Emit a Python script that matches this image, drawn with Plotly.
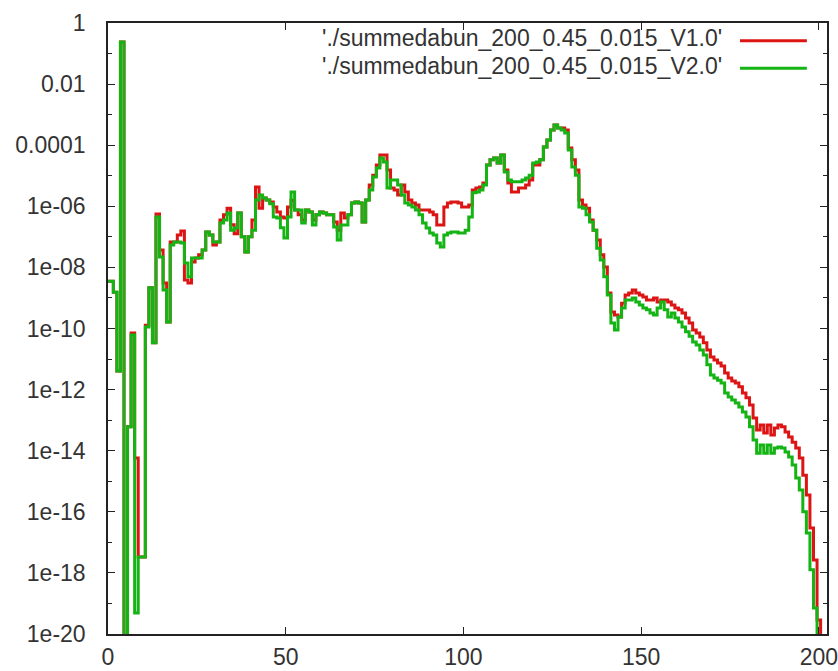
import plotly.graph_objects as go

# bin index (mass number)
bins = list(range(0, 202))

# log10 of summed abundance, V2.0 (green); None = zero abundance
log_v2 = [
    -8.45, -8.45, -8.81, -11.39, -0.62, None, -13.22, -10.21, -19.31, -17.48,
    -17.48, -9.95, -8.67, -10.47, -6.35, -7.66, -8.74, -9.79, -7.27, -7.17,
    -7.17, -7.20, -7.86, -8.31, -7.69, -7.69, -7.69, -7.43, -6.84, -6.94,
    -7.17, -7.17, -6.55, -6.45, -6.22, -6.78, -6.71, -6.22, -7.00, -7.50,
    -7.00, -6.78, -5.79, -5.63, -5.73, -5.79, -5.92, -6.35, -6.38, -6.70,
    -7.04, -6.35, -5.53, -6.12, -6.12, -6.55, -6.12, -6.19, -6.61, -6.28,
    -6.19, -6.22, -6.28, -6.28, -6.68, -7.10, -6.61, -6.61, -6.28, -5.89,
    -5.86, -5.89, -6.51, -5.79, -5.47, -5.04, -4.75, -4.42, -4.55, -5.40,
    -5.14, -5.14, -5.30, -5.63, -5.89, -5.96, -6.02, -6.12, -6.28, -6.55,
    -6.71, -6.87, -6.94, -7.20, -7.33, -6.94, -6.87, -6.84, -6.84, -6.87,
    -6.87, -6.78, -6.35, -5.56, -5.53, -5.47, -5.30, -4.65, -4.48, -4.42,
    -4.58, -4.32, -4.88, -5.14, -5.20, -5.20, -5.20, -5.14, -5.07, -4.98,
    -4.58, -4.55, -4.48, -4.06, -3.83, -3.50, -3.34, -3.44, -3.50, -3.60,
    -4.16, -4.71, -4.98, -6.02, -6.06, -6.28, -6.51, -6.78, -7.37, -7.76,
    -8.31, -8.90, -9.82, -10.05, -9.62, -9.33, -9.07, -9.07, -9.00, -9.13,
    -9.23, -9.33, -9.39, -9.49, -9.56, -9.33, -9.13, -9.39, -9.62, -9.49,
    -9.66, -9.79, -9.95, -10.11, -10.25, -10.44, -10.54, -10.70, -10.87, -11.19,
    -11.52, -11.62, -11.69, -11.78, -12.11, -12.24, -12.34, -12.44, -12.57, -12.73,
    -12.90, -13.22, -13.65, -14.08, -13.81, -14.08, -13.81, -14.08, -13.91, -13.88,
    -13.91, -14.04, -14.21, -14.47, -14.89, -15.29, -16.00, -16.69, -17.90, -19.15,
    None, None,
]

# log10 of summed abundance, V1.0 (red)
log_v1 = [
    -8.45, -8.45, -8.81, -11.39, -0.62, None, -13.22, -10.15, -14.24, -17.48,
    -17.48, -9.89, -8.67, -10.47, -6.25, -7.43, -8.51, -9.79, -7.17, -7.17,
    -6.94, -6.81, -8.41, -8.51, -7.82, -7.69, -7.59, -7.43, -6.84, -6.94,
    -7.27, -7.17, -6.45, -6.28, -6.06, -6.60, -6.90, -6.22, -7.00, -7.50,
    -7.00, -6.45, -5.37, -6.06, -5.73, -5.79, -5.86, -6.02, -6.19, -6.35,
    -6.38, -6.02, -5.80, -6.12, -6.28, -6.45, -6.12, -6.19, -6.45, -6.28,
    -6.19, -6.22, -6.28, -6.28, -6.51, -6.78, -6.22, -6.38, -6.28, -5.89,
    -5.86, -5.89, -6.51, -5.79, -5.30, -4.98, -4.65, -4.32, -4.32, -4.81,
    -5.40, -5.47, -5.63, -5.30, -5.53, -5.79, -5.89, -5.96, -6.12, -6.12,
    -6.12, -6.19, -6.28, -6.61, -6.61, -6.02, -5.89, -5.86, -5.86, -5.89,
    -6.02, -6.02, -5.96, -5.47, -5.40, -5.37, -5.24, -4.65, -4.48, -4.42,
    -4.58, -4.32, -4.81, -5.24, -5.53, -5.53, -5.40, -5.40, -5.30, -5.14,
    -4.65, -4.65, -4.48, -4.06, -3.83, -3.50, -3.34, -3.44, -3.44, -3.50,
    -4.09, -4.48, -4.81, -5.79, -5.96, -6.06, -6.45, -6.78, -7.10, -7.59,
    -7.99, -8.84, -9.46, -9.56, -9.62, -9.17, -8.90, -8.84, -8.74, -8.84,
    -8.90, -8.97, -9.07, -9.07, -9.00, -9.13, -9.07, -9.07, -9.13, -9.23,
    -9.33, -9.39, -9.49, -9.66, -9.82, -10.05, -10.15, -10.28, -10.47, -10.70,
    -10.93, -11.03, -11.13, -11.23, -11.46, -11.62, -11.72, -11.78, -11.91, -12.11,
    -12.27, -12.50, -12.93, -13.32, -13.16, -13.42, -13.16, -13.49, -13.26, -13.16,
    -13.22, -13.39, -13.55, -13.72, -13.91, -14.24, -14.80, -15.45, -16.53, -17.58,
    -19.54, None,
]

name_v1 = "'./summedabun_200_0.45_0.015_V1.0'"
name_v2 = "'./summedabun_200_0.45_0.015_V2.0'"

y_major = [1, 1e-2, 1e-4, 1e-6, 1e-8, 1e-10, 1e-12, 1e-14, 1e-16, 1e-18, 1e-20]
y_major_text = ["1", "0.01", "0.0001", "1e-06", "1e-08", "1e-10", "1e-12",
                "1e-14", "1e-16", "1e-18", "1e-20"]
y_minor = [1e-1, 1e-3, 1e-5, 1e-7, 1e-9, 1e-11, 1e-13, 1e-15, 1e-17, 1e-19]
x_ticks = [0, 50, 100, 150, 200]

ZERO = 1e-30  # zero abundance: drawn below the axis floor


def to_abund(logs):
    return [ZERO if e is None else 10 ** e for e in logs]


RED = "#dc1414"
GREEN = "#14b414"
TXT = "#333333"
FONT = "Liberation Sans"
FS = 23

fig = go.Figure()
fig.add_trace(go.Scatter(x=bins, y=to_abund(log_v1), mode="lines", name=name_v1,
                         line=dict(color=RED, width=3, shape="hvh")))
fig.add_trace(go.Scatter(x=bins, y=to_abund(log_v2), mode="lines", name=name_v2,
                         line=dict(color=GREEN, width=3, shape="hvh")))

fig.update_layout(
    width=838, height=671,
    margin=dict(l=108, r=11, t=23, b=37),
    paper_bgcolor="white", plot_bgcolor="white",
    showlegend=False,
    font=dict(family=FONT, size=FS, color=TXT),
)
fig.update_xaxes(
    range=[0, 202.3], tickvals=x_ticks, ticktext=[str(v) for v in x_ticks],
    ticks="inside", ticklen=7, tickwidth=1.2, tickcolor="#222",
    showline=True, linecolor="#222", linewidth=1.5, mirror="ticks",
    showgrid=False, zeroline=False, ticklabelstandoff=2, automargin=False,
    ticklabeloverflow="allow",
    tickfont=dict(family=FONT, size=FS, color=TXT),
)
fig.update_yaxes(
    type="log", range=[-20, 0],
    tickvals=y_major, ticktext=y_major_text,
    ticks="inside", ticklen=7, tickwidth=1.2, tickcolor="#222",
    minor=dict(tickvals=y_minor, ticks="inside", ticklen=4, tickcolor="#222", tickwidth=1.2,
               showgrid=False),
    showline=True, linecolor="#222", linewidth=1.5, mirror="ticks",
    showgrid=False, zeroline=False, ticklabelstandoff=16, automargin=False,
    ticklabeloverflow="allow",
    tickfont=dict(family=FONT, size=FS, color=TXT),
)

# gnuplot-style key: text right-aligned, sample line to its right
key_rows = [(name_v1, RED, 0.975), (name_v2, GREEN, 0.930)]
for label, col, yy in key_rows:
    fig.add_annotation(x=0.857, y=yy, xref="paper", yref="paper", text=label,
                       showarrow=False, xanchor="right", yanchor="middle",
                       font=dict(family=FONT, size=FS, color=TXT))
    fig.add_shape(type="line", xref="paper", yref="paper", x0=0.879, x1=0.972,
                  y0=yy - 0.004, y1=yy - 0.004, line=dict(color=col, width=3))

fig.write_html(
    "out.html",
    config={"displayModeBar": False},
    post_script="document.body.style.margin='0';document.body.style.overflow='hidden';",
)
